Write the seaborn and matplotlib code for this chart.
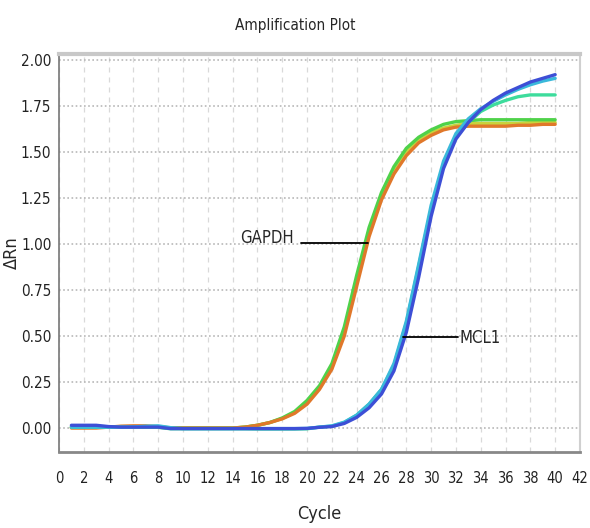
import numpy as np
import pandas as pd
from matplotlib import pyplot as plt
import seaborn as sb

# qPCR amplification curves
cycles = list(range(1, 41))

gapdh_orange = [0.0, 0.0, 0.0, 0.005, 0.01, 0.012, 0.012, 0.008, 0.0, 0.0,
                0.0, 0.0, 0.0, 0.0, 0.005, 0.015, 0.03, 0.05, 0.08, 0.13,
                0.21, 0.32, 0.50, 0.77, 1.04, 1.24, 1.38, 1.48, 1.55, 1.59,
                1.62, 1.635, 1.64, 1.64, 1.64, 1.64, 1.645, 1.645, 1.65, 1.65]
gapdh_green = [0.005, 0.005, 0.005, 0.005, 0.008, 0.008, 0.008, 0.005, 0.002, 0.0,
               0.0, 0.0, 0.0, 0.0, 0.005, 0.015, 0.03, 0.055, 0.09, 0.15,
               0.23, 0.35, 0.55, 0.83, 1.09, 1.28, 1.42, 1.52, 1.58, 1.62,
               1.65, 1.665, 1.67, 1.675, 1.675, 1.675, 1.675, 1.675, 1.675, 1.675]
gapdh_yellow = [0.003, 0.003, 0.004, 0.004, 0.004, 0.004, 0.004, 0.004, 0.0, 0.0,
                0.0, 0.0, 0.0, 0.0, 0.005, 0.015, 0.03, 0.052, 0.085, 0.14,
                0.22, 0.33, 0.52, 0.80, 1.06, 1.26, 1.40, 1.50, 1.565, 1.605,
                1.63, 1.645, 1.655, 1.655, 1.655, 1.655, 1.655, 1.66, 1.66, 1.66]

mcl1_blue = [0.015, 0.015, 0.015, 0.008, 0.005, 0.005, 0.005, 0.005, -0.003, -0.003,
             -0.003, -0.003, -0.003, -0.003, -0.003, -0.003, -0.003, -0.003, -0.003, -0.002,
             0.004, 0.008, 0.025, 0.058, 0.11, 0.185, 0.31, 0.52, 0.82, 1.15,
             1.41, 1.57, 1.66, 1.73, 1.78, 1.82, 1.85, 1.88, 1.90, 1.92]
mcl1_cyan = [0.005, 0.005, 0.005, 0.005, 0.005, 0.006, 0.01, 0.012, 0.002, -0.003,
             -0.003, -0.003, -0.003, -0.003, -0.003, -0.003, -0.003, -0.003, -0.003, -0.002,
             0.005, 0.012, 0.032, 0.07, 0.13, 0.21, 0.35, 0.58, 0.89, 1.21,
             1.45, 1.60, 1.68, 1.735, 1.775, 1.81, 1.84, 1.865, 1.885, 1.90]
mcl1_teal = [0.004, 0.004, 0.004, 0.004, 0.004, 0.004, 0.004, 0.004, -0.004, -0.004,
             -0.004, -0.004, -0.004, -0.004, -0.004, -0.005, -0.005, -0.005, -0.005, -0.004,
             0.005, 0.01, 0.03, 0.07, 0.13, 0.21, 0.34, 0.57, 0.88, 1.19,
             1.43, 1.58, 1.66, 1.72, 1.755, 1.78, 1.80, 1.81, 1.81, 1.81]

series = {'GAPDH yellow': gapdh_yellow, 'GAPDH green': gapdh_green,
          'GAPDH orange': gapdh_orange, 'MCL1 teal': mcl1_teal,
          'MCL1 cyan': mcl1_cyan, 'MCL1 blue': mcl1_blue}
colors = {'GAPDH yellow': '#c9d23c', 'GAPDH green': '#4fd24a',
          'GAPDH orange': '#e0782a', 'MCL1 teal': '#3ddc9c',
          'MCL1 blue': '#3d4fd6', 'MCL1 cyan': '#3ab9da'}

x_ticks = list(range(0, 43, 2))
y_ticks = [0.0, 0.25, 0.5, 0.75, 1.0, 1.25, 1.5, 1.75, 2.0]

rows = []
for name, vals in series.items():
	for c, v in zip(cycles, vals):
		rows.append({'Cycle': c, 'dRn': v, 'well': name})
df = pd.DataFrame(rows)

sb.set_style('white')
plt.rcParams['font.family'] = ['DejaVu Sans']
plt.rcParams['font.stretch'] = 'condensed'

fig = plt.figure(figsize=(5.9, 5.28), dpi=100)
ax = fig.add_axes([0.1, 0.144, 0.883, 0.754])

sb.lineplot(data=df, x='Cycle', y='dRn', hue='well', hue_order=list(series.keys()),
            palette=colors, linewidth=2.4, legend=False, ax=ax, errorbar=None)

ax.set_xlim(0, 42)
ax.set_ylim(-0.13, 2.033)
ax.set_xticks(x_ticks)
ax.set_yticks(y_ticks)
ax.set_yticklabels(['{:.2f}'.format(t) for t in y_ticks])
ax.tick_params(axis='both', labelsize=11, colors='#222222', length=3, width=0.8,
               direction='inout', pad=4)
ax.tick_params(axis='x', pad=12, labelsize=10.5)

ax.grid(axis='y', linestyle=(0, (1, 1.5)), color='#b8b8b8', linewidth=1.2)
ax.grid(axis='x', linestyle=(0, (4, 4)), color='#d9d9d9', linewidth=0.9)

ax.spines['left'].set_color('#777777')
ax.spines['left'].set_linewidth(1.2)
ax.spines['bottom'].set_color('#888888')
ax.spines['bottom'].set_linewidth(2)
ax.spines['top'].set_color('#c8c8c8')
ax.spines['top'].set_linewidth(3)
ax.spines['right'].set_color('#d0d0d0')
ax.spines['right'].set_linewidth(1.5)

ax.set_xlabel('Cycle', fontsize=13, labelpad=14)
ax.set_ylabel('\u0394Rn', fontsize=13)
ax.yaxis.set_label_coords(-0.074, 0.5)
fig.suptitle('Amplification Plot', fontsize=11, y=0.965)

# gene labels with leader lines
ax.plot([19.5, 24.9], [1.007, 1.007], color='black', linewidth=1.3)
ax.text(18.9, 1.03, 'GAPDH', ha='right', va='center', fontsize=12)
ax.plot([27.7, 32.2], [0.496, 0.496], color='black', linewidth=1.3)
ax.text(32.3, 0.49, 'MCL1', ha='left', va='center', fontsize=12)

plt.savefig('out.png', dpi=100)
